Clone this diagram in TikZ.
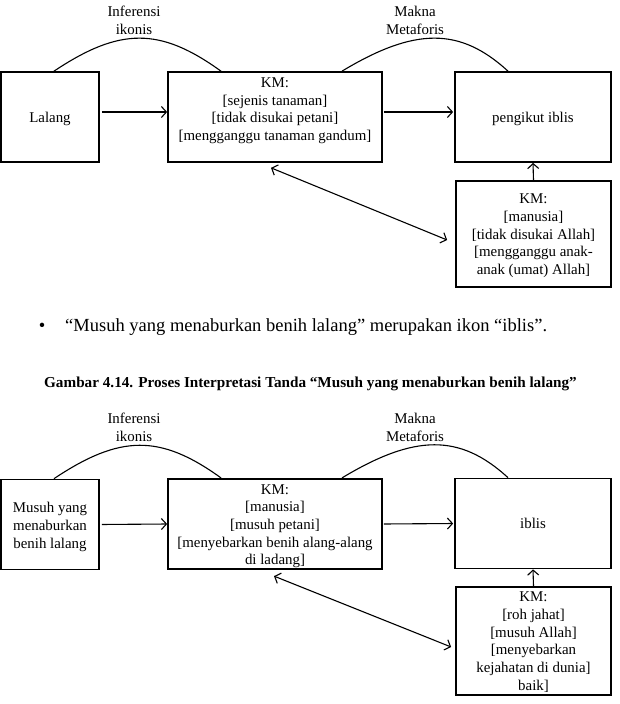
\documentclass[tikz,border=0pt]{standalone}
\usepackage{fontspec}
\setmainfont{Liberation Serif}
\usetikzlibrary{arrows.meta}

% centred lines of a box, moved up or down without changing the box
\newcommand{\boxtext}[2][-1.5pt]{\raisebox{#1}[\height][\depth]{\begin{tabular}{@{}c@{}}#2\end{tabular}}}

\begin{document}
\begin{tikzpicture}[
        x=1pt, y=-1pt,
        font=\fontsize{14.9}{17.7}\selectfont,
        flow/.style={-{Straight Barb[length=5pt, width=11pt]}, line width=1.1pt},
        both/.style={{Straight Barb[length=5pt, width=11pt]}-{Straight Barb[length=5pt, width=11pt]},
            line width=1.1pt},
        hump/.style={line width=1.1pt},
        box/.style={draw, line width=1.7pt, inner sep=1pt, minimum height=90pt},
        tag/.style={align=center, inner sep=0pt},
        prose/.style={inner sep=0pt, font=\fontsize{18.5}{22}\selectfont}
    ]
        \useasboundingbox (0,0) rectangle (620,704);

        % Lalang: tanda, KM and the metaphorical meaning.
        \node[box, minimum width=98pt] (lalang) at (50,117) {\boxtext{Lalang}};
        \node[box, minimum width=214pt] (kmA) at (275,117)
            {\boxtext[6.5pt]{KM:\\{}[sejenis tanaman]\\{}[tidak disukai petani]\\{}[mengganggu tanaman gandum]}};
        \node[box, minimum width=156pt] (pengikut) at (533,117) {\boxtext{pengikut iblis}};
        \node[box, minimum width=155pt, minimum height=106pt] (kmAlow) at (533.5,234)
            {\boxtext{KM:\\{}[manusia]\\{}[tidak disukai Allah]\\{}[mengganggu anak-\\anak (umat) Allah]}};
        \node[tag] (infA) at (134,20.5) {Inferensi\\ikonis};
        \node[tag] (makA) at (415,20.5) {Makna\\Metaforis};
        \draw[hump] ([xshift=4pt]lalang.north) .. controls +(66,-44) and +(-61,-44) .. ([xshift=-54pt]kmA.north);
        \draw[hump] ([xshift=67pt]kmA.north) .. controls +(73,-44) and +(-48,-44) .. ([xshift=-25pt]pengikut.north);
        \draw[flow, shorten <=2pt] ([yshift=5pt]lalang.east) -- ([yshift=5pt]kmA.west);
        \draw[flow, shorten <=1pt, shorten >=1pt] ([yshift=5pt]kmA.east) -- ([yshift=5pt]pengikut.west);
        \draw[flow] (kmAlow.north) -- (pengikut.south);
        \draw[both] ([xshift=-4pt,yshift=-5pt]kmA.south) -- ([xshift=-8pt,yshift=-6pt]kmAlow.west);

        % Text between the two figures.
        \node[prose] (bullet) at (42,327) {\textbullet};
        \node[prose, anchor=west] (sentence) at (65,327)
            {“Musuh yang menaburkan benih lalang” merupakan ikon “iblis”.};
        \node[inner sep=0pt, font=\fontsize{15.2}{18}\selectfont\bfseries] (caption) at (310.5,384)
            {Gambar 4.14. Proses Interpretasi Tanda “Musuh yang menaburkan benih lalang”};

        % Musuh yang menaburkan benih lalang.
        \node[box, minimum width=98pt] (musuh) at (50,524.5) {\boxtext[-2.5pt]{Musuh yang\\menaburkan\\benih lalang}};
        \node[box, minimum width=214pt] (kmB) at (275,524)
            {\boxtext[-2pt]{KM:\\{}[manusia]\\{}[musuh petani]\\{}[menyebarkan benih alang-alang\\di ladang]}};
        \node[box, minimum width=156pt] (iblis) at (533,523.5) {\boxtext{iblis}};
        \node[box, minimum width=155pt, minimum height=106pt] (kmBlow) at (533.5,641)
            {\boxtext[-1.5pt]{KM:\\{}[roh jahat]\\{}[musuh Allah]\\{}[menyebarkan\\kejahatan di dunia]\\baik]}};
        \node[tag] (infB) at (134,427.5) {Inferensi\\ikonis};
        \node[tag] (makB) at (415,427.5) {Makna\\Metaforis};
        \draw[hump] ([xshift=4pt]musuh.north) .. controls +(66,-44) and +(-61,-44) .. ([xshift=-54pt]kmB.north);
        \draw[hump] ([xshift=67pt]kmB.north) .. controls +(73,-44) and +(-48,-44) .. ([xshift=-25pt]iblis.north);
        \draw[flow, shorten <=2pt] (musuh.east) -- (kmB.west);
        \draw[flow, shorten <=1pt, shorten >=1pt] (kmB.east) -- (iblis.west);
        \draw[flow] (kmBlow.north) -- (iblis.south);
        \draw[both] ([xshift=-1pt,yshift=-6pt]kmB.south) -- ([xshift=-4pt,yshift=-6pt]kmBlow.west);
\end{tikzpicture}
\end{document}
